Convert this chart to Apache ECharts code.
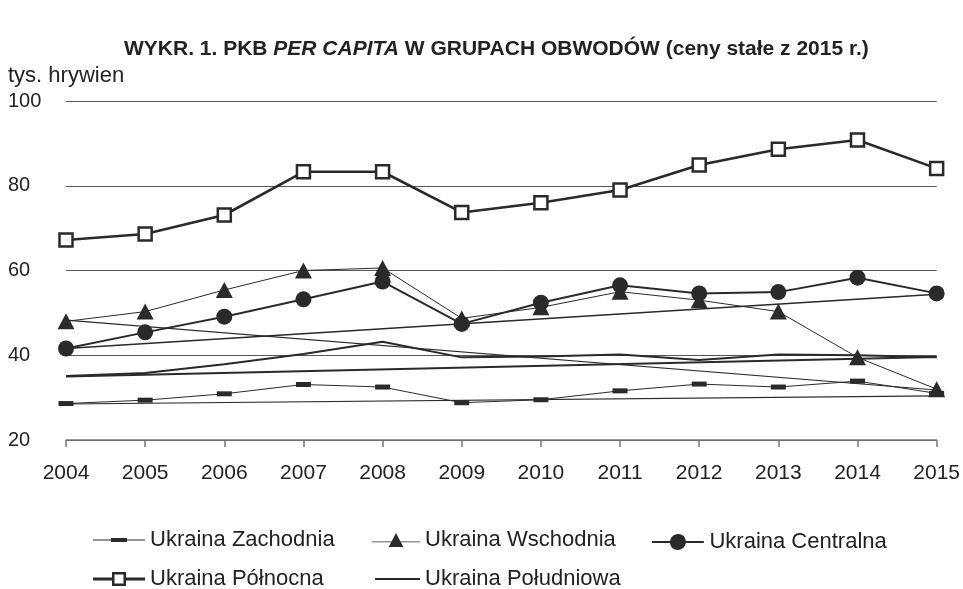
<!DOCTYPE html>
<html>
<head>
<meta charset="utf-8">
<script src="https://cdn.jsdelivr.net/npm/echarts@6/dist/echarts.min.js"></script>
<style>html,body{margin:0;padding:0;background:#fff}#c{width:963px;height:589px}</style>
</head>
<body>
<div id="c"></div>
<script>
var years = ['2004','2005','2006','2007','2008','2009','2010','2011','2012','2013','2014','2015'];
var zachodnia  = [28.6, 29.4, 30.9, 33.1, 32.5, 28.8, 29.5, 31.6, 33.2, 32.5, 33.9, 31.0];
var wschodnia  = [48.0, 50.3, 55.4, 60.0, 60.6, 48.7, 51.3, 55.0, 53.0, 50.3, 39.5, 32.0];
var centralna  = [41.6, 45.4, 49.1, 53.2, 57.4, 47.4, 52.4, 56.5, 54.6, 54.9, 58.3, 54.6];
var polnocna   = [67.2, 68.6, 73.1, 83.3, 83.3, 73.7, 76.0, 79.0, 84.9, 88.6, 90.8, 84.1];
var poludniowa = [35.1, 35.8, 37.9, 40.3, 43.2, 39.5, 39.7, 40.2, 38.9, 40.2, 40.0, 39.5];
// thin straight lines from first to last year (start, end)
var trendZachodnia  = [28.5, 30.4];
var trendWschodnia  = [48.3, 31.8];
var trendCentralna  = [41.6, 54.4];
var trendPoludniowa = [35.0, 39.6];
var yTicks = [20, 40, 60, 80, 100];

var names = ['Ukraina Zachodnia','Ukraina Wschodnia','Ukraina Centralna','Ukraina Północna','Ukraina Południowa'];
var C = '#2a2a2a';
var FONT = 'Liberation Sans, Arial, sans-serif';

// legend icons (line + marker), drawn as filled paths
var icons = [
  'path://M0,7.5H18V6H34V7.5H52V8.5H34V10H18V8.5H0Z',
  'path://M0,9H21.2L26,0L30.8,9H52V10H31.33L34,15H18L20.67,10H0Z',
  'path://M0,7H18.06A8,8 0 0 1 33.94,7H52V9H33.94A8,8 0 0 1 18.06,9H0Z',
  'path://M0,5.5H19V0H33V5.5H52V8.5H33V14H19V8.5H0Z M21.5,2.5V11.5H30.5V2.5Z',
  'path://M0,0H46V2H0Z'
];

function endpoints(pair){
  var arr = years.map(function(){return null;});
  arr[0] = pair[0]; arr[years.length-1] = pair[1];
  return arr;
}
function trend(name, pair, w){
  return {name:name, type:'line', data:endpoints(pair), connectNulls:true, showSymbol:false, symbol:'none',
    silent:true, z:1, lineStyle:{color:C, width:w}, itemStyle:{color:C}};
}
function leg(i, left, top, w, h){
  return {data:[{name:names[i], icon:icons[i]}], left:left, top:top, padding:0, itemWidth:w, itemHeight:h, itemGap:0,
    itemStyle:{color:C, borderWidth:0}, selectedMode:false,
    textStyle:{fontFamily:FONT, fontSize:22, color:'#222'}};
}

var chart = echarts.init(document.getElementById('c'), null, {renderer:'canvas'});
chart.setOption({
  animation:false,
  backgroundColor:'#fff',
  title:[
    {text:'WYKR. 1. PKB {i|PER CAPITA} W GRUPACH OBWODÓW (ceny stałe z 2015 r.)', left:119, top:34,
      textStyle:{fontFamily:FONT, fontSize:21, fontWeight:'bold', color:'#222',
        rich:{i:{fontFamily:FONT, fontSize:21, fontWeight:'bold', fontStyle:'italic', color:'#222'}}}},
    {text:'tys. hrywien', left:3, top:60, textStyle:{fontFamily:FONT, fontSize:22, fontWeight:'normal', color:'#222'}}
  ],
  legend:[
    leg(0, 93, 529, 52, 4),
    leg(1, 372, 529, 48, 15),
    leg(2, 652, 531, 53, 16),
    leg(3, 93, 568, 52, 14),
    leg(4, 375, 568, 45, 2)
  ],
  grid:{left:66, right:26, top:101, bottom:149, containLabel:false},
  xAxis:{type:'category', data:years, boundaryGap:false,
    axisLine:{lineStyle:{color:'#777', width:1.5}},
    axisTick:{show:true, length:7, alignWithLabel:true, lineStyle:{color:'#777', width:1.5}},
    axisLabel:{fontFamily:FONT, fontSize:21, color:'#222', margin:23},
    splitLine:{show:false}},
  yAxis:{type:'value', min:yTicks[0], max:yTicks[yTicks.length-1], interval:20,
    axisLine:{show:false}, axisTick:{show:false},
    axisLabel:{fontFamily:FONT, fontSize:20, color:'#222', align:'left', margin:58, padding:[4,0,0,0]},
    splitLine:{show:true, lineStyle:{color:'#555', width:1}}},
  series:[
    trend('tZ', trendZachodnia, 1.2),
    trend('tW', trendWschodnia, 1.2),
    trend('tC', trendCentralna, 1.6),
    trend('tP', trendPoludniowa, 2),
    {name:names[0], type:'line', data:zachodnia, symbol:'rect', symbolSize:[15,5], z:3,
      lineStyle:{color:C, width:1}, itemStyle:{color:C}},
    {name:names[1], type:'line', data:wschodnia, symbol:'triangle', symbolSize:[17,16], z:3,
      lineStyle:{color:C, width:1}, itemStyle:{color:C}},
    {name:names[2], type:'line', data:centralna, symbol:'circle', symbolSize:16, z:4,
      lineStyle:{color:C, width:2}, itemStyle:{color:C}},
    {name:names[3], type:'line', data:polnocna, symbol:'rect', symbolSize:13, z:5,
      lineStyle:{color:C, width:2.6}, itemStyle:{color:'#fff', borderColor:C, borderWidth:2.5}},
    {name:names[4], type:'line', data:poludniowa, symbol:'none', z:3,
      lineStyle:{color:C, width:2}, itemStyle:{color:C}}
  ]
});
</script>
</body>
</html>
